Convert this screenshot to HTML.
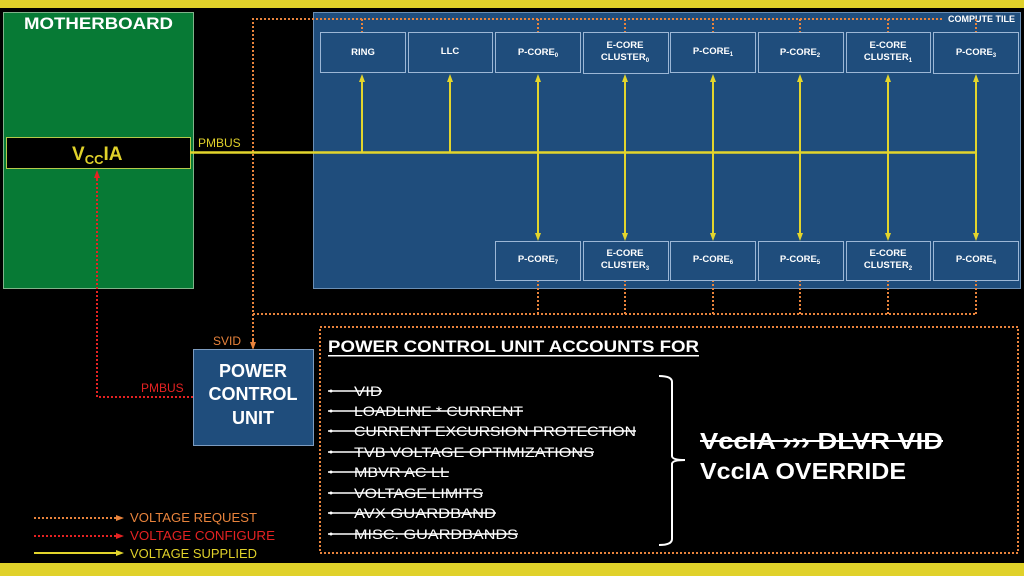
<!DOCTYPE html>
<html><head><meta charset="utf-8"><style>
html,body{margin:0;padding:0;background:#000;}
svg{display:block;}
text{font-family:"Liberation Sans",sans-serif;}
</style></head><body>
<svg width="1024" height="576" viewBox="0 0 1024 576" xmlns="http://www.w3.org/2000/svg">
<defs>
<marker id="ay" markerWidth="8" markerHeight="8" refX="4" refY="4" orient="auto-start-reverse" markerUnits="userSpaceOnUse"><path d="M0,1 L8,4 L0,7 z" fill="#e3d52c"/></marker>
<marker id="ao" markerWidth="8" markerHeight="8" refX="4" refY="4" orient="auto" markerUnits="userSpaceOnUse"><path d="M0,1 L8,4 L0,7 z" fill="#e8833c"/></marker>
<marker id="ar" markerWidth="8" markerHeight="8" refX="4" refY="4" orient="auto" markerUnits="userSpaceOnUse"><path d="M0,1 L8,4 L0,7 z" fill="#e52222"/></marker>
</defs>
<rect x="0" y="0" width="1024" height="576" fill="#000"/>
<rect x="0" y="0" width="1024" height="8" fill="#e0d12a"/>
<rect x="0" y="563" width="1024" height="13" fill="#e0d12a"/>

<rect x="3.5" y="12.5" width="190" height="276" fill="#077a35" stroke="#7fb48a" stroke-width="1"/>
<text x="24" y="29" fill="#fff" font-size="17" font-weight="bold" textLength="149" lengthAdjust="spacingAndGlyphs">MOTHERBOARD</text>
<rect x="6.5" y="137.5" width="184" height="31" fill="#000" stroke="#b5c94a" stroke-width="1"/>
<text x="72" y="160" fill="#e0d12a" font-size="19" font-weight="bold">V<tspan font-size="13" dy="4">CC</tspan><tspan dy="-4">IA</tspan></text>

<rect x="313.5" y="12.5" width="707" height="276" fill="#1f4d7c" stroke="#6b8fb5" stroke-width="1"/>
<text x="1015" y="22" fill="#fff" font-size="9" font-weight="bold" text-anchor="end">COMPUTE TILE</text>

<g stroke="#e8833c" stroke-width="2" stroke-dasharray="2,2" fill="none">
<path d="M253,348 L253,19 L944,19"/>
<path d="M253,314 L975,314"/>
<path d="M362,19V32 M538,19V32 M625,19V32 M713,19V32 M800,19V32 M888,19V32 M976,19V32"/>
<path d="M538,280V314 M625,280V314 M713,280V314 M800,280V314 M888,280V314 M976,280V314"/>
<rect x="320" y="327" width="698" height="226"/>
</g>
<path d="M253,340 L253,346" stroke="#e8833c" stroke-width="2" marker-end="url(#ao)"/>

<g stroke="#e52222" stroke-width="2" stroke-dasharray="2,2" fill="none">
<path d="M193,397 L97,397 L97,176"/>
</g>
<path d="M97,180 L97,174" stroke="#e52222" stroke-width="2" marker-end="url(#ar)"/>

<g stroke="#e3d52c" stroke-width="2.5" fill="none">
<path d="M190,152.5 L976,152.5"/>
</g>
<g stroke="#e3d52c" stroke-width="2" fill="none">
<path d="M362,152 L362,78" marker-end="url(#ay)"/>
<path d="M450,152 L450,78" marker-end="url(#ay)"/>
<path d="M538,78 L538,237" marker-start="url(#ay)" marker-end="url(#ay)"/>
<path d="M625,78 L625,237" marker-start="url(#ay)" marker-end="url(#ay)"/>
<path d="M713,78 L713,237" marker-start="url(#ay)" marker-end="url(#ay)"/>
<path d="M800,78 L800,237" marker-start="url(#ay)" marker-end="url(#ay)"/>
<path d="M888,78 L888,237" marker-start="url(#ay)" marker-end="url(#ay)"/>
<path d="M976,78 L976,237" marker-start="url(#ay)" marker-end="url(#ay)"/>
</g>
<text x="198" y="147" fill="#e0d12a" font-size="12">PMBUS</text>

<g fill="#1f4d7c" stroke="#9cb7d6" stroke-width="1">
<rect x="320.5" y="32.5" width="85" height="40"/>
<rect x="408.5" y="32.5" width="84" height="40"/>
<rect x="495.5" y="32.5" width="85" height="40"/>
<rect x="583.5" y="32.5" width="85" height="41"/>
<rect x="670.5" y="32.5" width="85" height="40"/>
<rect x="758.5" y="32.5" width="85" height="40"/>
<rect x="846.5" y="32.5" width="84" height="40"/>
<rect x="933.5" y="32.5" width="85" height="41"/>
<rect x="495.5" y="241.5" width="85" height="39"/>
<rect x="583.5" y="241.5" width="85" height="39"/>
<rect x="670.5" y="241.5" width="85" height="39"/>
<rect x="758.5" y="241.5" width="85" height="39"/>
<rect x="846.5" y="241.5" width="84" height="39"/>
<rect x="933.5" y="241.5" width="85" height="39"/>
</g>
<g fill="#fff" font-size="9.5" font-weight="bold" text-anchor="middle">
<text x="363" y="55">RING</text>
<text x="450" y="54">LLC</text>
<text x="538" y="55">P-CORE<tspan font-size="6" dy="2">0</tspan></text>
<text x="625" y="48">E-CORE</text><text x="625" y="60">CLUSTER<tspan font-size="6" dy="2">0</tspan></text>
<text x="713" y="54">P-CORE<tspan font-size="6" dy="2">1</tspan></text>
<text x="800" y="55">P-CORE<tspan font-size="6" dy="2">2</tspan></text>
<text x="888" y="48">E-CORE</text><text x="888" y="60">CLUSTER<tspan font-size="6" dy="2">1</tspan></text>
<text x="976" y="55">P-CORE<tspan font-size="6" dy="2">3</tspan></text>
<text x="538" y="262">P-CORE<tspan font-size="6" dy="2">7</tspan></text>
<text x="625" y="256">E-CORE</text><text x="625" y="268">CLUSTER<tspan font-size="6" dy="2">3</tspan></text>
<text x="713" y="262">P-CORE<tspan font-size="6" dy="2">6</tspan></text>
<text x="800" y="262">P-CORE<tspan font-size="6" dy="2">5</tspan></text>
<text x="888" y="256">E-CORE</text><text x="888" y="268">CLUSTER<tspan font-size="6" dy="2">2</tspan></text>
<text x="976" y="262">P-CORE<tspan font-size="6" dy="2">4</tspan></text>
</g>

<rect x="193.5" y="349.5" width="120" height="96" fill="#1f4d7c" stroke="#7d9cc0" stroke-width="1"/>
<g fill="#fff" font-size="18" font-weight="bold" text-anchor="middle">
<text x="253" y="377">POWER</text><text x="253" y="400">CONTROL</text><text x="253" y="424">UNIT</text>
</g>
<text x="213" y="345" fill="#e8833c" font-size="12">SVID</text>
<text x="141" y="392" fill="#e52222" font-size="12">PMBUS</text>

<text x="328" y="352" fill="#fff" font-size="17" font-weight="bold" textLength="371" lengthAdjust="spacingAndGlyphs">POWER CONTROL UNIT ACCOUNTS FOR</text>
<rect x="328" y="355" width="371" height="1.5" fill="#fff"/>
<g fill="#fff" font-size="14" lengthAdjust="spacingAndGlyphs">
<text x="354" y="396" textLength="28" lengthAdjust="spacingAndGlyphs">VID</text>
<text x="354" y="416" textLength="169" lengthAdjust="spacingAndGlyphs">LOADLINE * CURRENT</text>
<text x="354" y="436" textLength="282" lengthAdjust="spacingAndGlyphs">CURRENT EXCURSION PROTECTION</text>
<text x="354" y="457" textLength="240" lengthAdjust="spacingAndGlyphs">TVB VOLTAGE OPTIMIZATIONS</text>
<text x="354" y="477" textLength="95" lengthAdjust="spacingAndGlyphs">MBVR AC LL</text>
<text x="354" y="498" textLength="129" lengthAdjust="spacingAndGlyphs">VOLTAGE LIMITS</text>
<text x="354" y="518" textLength="142" lengthAdjust="spacingAndGlyphs">AVX GUARDBAND</text>
<text x="354" y="539" textLength="164" lengthAdjust="spacingAndGlyphs">MISC. GUARDBANDS</text>
</g>
<g stroke="#fff" stroke-width="1.5">
<line x1="328" y1="391" x2="382" y2="391"/>
<line x1="328" y1="411" x2="523" y2="411"/>
<line x1="328" y1="431" x2="636" y2="431"/>
<line x1="328" y1="452" x2="594" y2="452"/>
<line x1="328" y1="472" x2="449" y2="472"/>
<line x1="328" y1="493" x2="483" y2="493"/>
<line x1="328" y1="513" x2="496" y2="513"/>
<line x1="328" y1="534" x2="518" y2="534"/>
</g>
<g fill="#fff"><circle cx="331" cy="391" r="1.5"/><circle cx="331" cy="411" r="1.5"/><circle cx="331" cy="431" r="1.5"/><circle cx="331" cy="452" r="1.5"/><circle cx="331" cy="472" r="1.5"/><circle cx="331" cy="493" r="1.5"/><circle cx="331" cy="513" r="1.5"/><circle cx="331" cy="534" r="1.5"/></g>
<path d="M659,376 Q672,376 672,382 L672,456 Q672,460 685,460 Q672,460 672,464 L672,539 Q672,545 659,545" stroke="#fff" stroke-width="2" fill="none"/>
<text x="700" y="449" fill="#fff" font-size="23" font-weight="bold" textLength="243" lengthAdjust="spacingAndGlyphs">VccIA ››› DLVR VID</text>
<line x1="700" y1="441" x2="943" y2="441" stroke="#fff" stroke-width="2"/>
<text x="700" y="479" fill="#fff" font-size="23" font-weight="bold" textLength="206" lengthAdjust="spacingAndGlyphs">VccIA OVERRIDE</text>

<path d="M34,518 L120,518" stroke="#e8833c" stroke-width="2" stroke-dasharray="2,2" marker-end="url(#ao)"/>
<path d="M34,536 L120,536" stroke="#e52222" stroke-width="2" stroke-dasharray="2,2" marker-end="url(#ar)"/>
<path d="M34,553 L120,553" stroke="#e3d52c" stroke-width="2" marker-end="url(#ay)"/>
<text x="130" y="522" fill="#e8833c" font-size="13" textLength="127" lengthAdjust="spacingAndGlyphs">VOLTAGE REQUEST</text>
<text x="130" y="540" fill="#e52222" font-size="13" textLength="145" lengthAdjust="spacingAndGlyphs">VOLTAGE CONFIGURE</text>
<text x="130" y="558" fill="#e0d12a" font-size="13" textLength="127" lengthAdjust="spacingAndGlyphs">VOLTAGE SUPPLIED</text>
</svg>
</body></html>
